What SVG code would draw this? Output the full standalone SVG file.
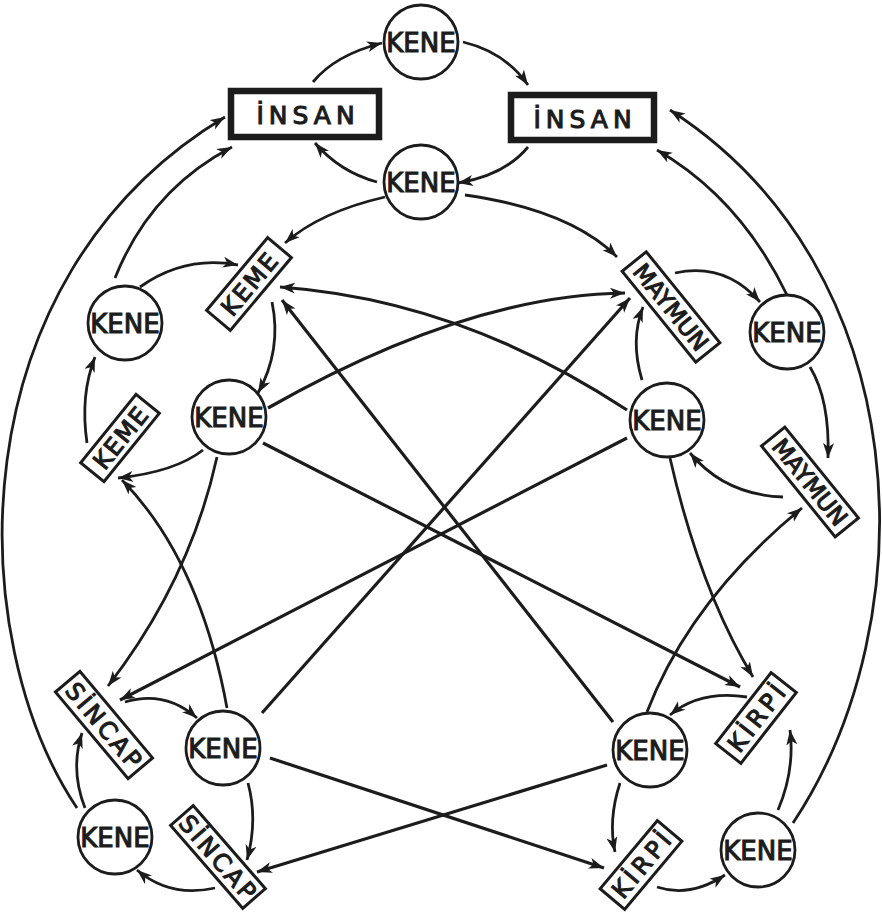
<svg xmlns="http://www.w3.org/2000/svg" width="882" height="916" viewBox="0 0 882 916">
<defs>
<style>
.bg{fill:#ffffff}
.kene circle{fill:#fff;stroke:#1c1c1c;stroke-width:2.8}
.lbl{font-family:"DejaVu Sans","Liberation Sans",sans-serif;fill:#1c1c1c;stroke:#1c1c1c;stroke-width:1.1;text-anchor:middle}
.host rect{fill:#fff;stroke:#1c1c1c;stroke-width:3}
.human rect{fill:#fff;stroke:#1c1c1c;stroke-width:6.5}
.edges path{fill:none;stroke:#1c1c1c;stroke-width:2.8;marker-end:url(#arr)}
.edges path.x{stroke-width:3.2}
</style>
<marker id="arr" markerUnits="userSpaceOnUse" markerWidth="18" markerHeight="12" refX="15" refY="5.5" orient="auto">
<path d="M0,0 L15,5.5 L0,11 L4,5.5 Z" fill="#1c1c1c"/>
</marker>
</defs>
<rect class="bg" x="0" y="0" width="882" height="916"/>

<g class="edges" id="connectors">
<path d="M313,82 Q335,55 382,43"/>
<path d="M463,42 Q505,52 528,85"/>
<path d="M528,147 Q505,175 458,183"/>
<path d="M377,182 Q340,172 315,143"/>
<path d="M385,197 Q320,212 285,243"/>
<path d="M465,195 Q570,210 617,257"/>
<path d="M140,287 Q185,255 238,265"/>
<path d="M272,302 Q282,350 258,393"/>
<path d="M203,450 Q175,472 118,478"/>
<path d="M87,443 Q80,395 95,357"/>
<path d="M115,278 Q150,190 232,147"/>
<path d="M77,808 C-36,640 -46,280 225,117"/>
<path d="M787,295 Q740,198 657,150"/>
<path d="M793,823 C928,620 918,270 670,110"/>
<path d="M675,273 Q725,262 760,302"/>
<path d="M810,367 Q830,400 828,458"/>
<path d="M783,497 Q725,495 690,453"/>
<path d="M642,380 Q630,340 643,307"/>
<path class="x" d="M627,410 Q460,300 280,287"/>
<path class="x" d="M268,408 Q467,295 625,293"/>
<path class="x" d="M613,722 L282,300"/>
<path class="x" d="M262,713 L630,298"/>
<path class="x" d="M627,438 L120,700"/>
<path class="x" d="M263,443 L740,687"/>
<path d="M670,458 Q700,590 753,677"/>
<path d="M217,457 Q190,580 108,686"/>
<path d="M227,708 Q200,560 122,480"/>
<path d="M125,702 Q165,690 197,718"/>
<path d="M248,783 Q258,820 247,860"/>
<path d="M215,888 Q170,898 137,870"/>
<path d="M85,808 Q70,770 82,733"/>
<path class="x" d="M270,758 L604,868"/>
<path class="x" d="M607,765 L257,872"/>
<path d="M647,712 Q690,600 802,508"/>
<path d="M747,697 Q700,690 670,715"/>
<path d="M620,783 Q608,820 615,852"/>
<path d="M657,887 Q690,898 725,875"/>
<path d="M778,810 Q795,770 790,730"/>
</g>

<g id="insan-left" class="human">
<rect x="231" y="91" width="148" height="46"/>
<text class="lbl" x="308" y="124" font-size="25" letter-spacing="5">İNSAN</text>
</g>
<g id="insan-right" class="human">
<rect x="511" y="95" width="143" height="45"/>
<text class="lbl" x="585" y="128" font-size="25" letter-spacing="5">İNSAN</text>
</g>

<g id="kene-top" class="kene"><circle cx="421" cy="42" r="37"/><text class="lbl" x="421" y="52" font-size="26">KENE</text></g>
<g id="kene-mid" class="kene"><circle cx="421" cy="182" r="37"/><text class="lbl" x="421" y="192" font-size="26">KENE</text></g>
<g id="kene-lu" class="kene"><circle cx="125" cy="323" r="37"/><text class="lbl" x="125" y="333" font-size="26">KENE</text></g>
<g id="kene-lm" class="kene"><circle cx="229" cy="417" r="37"/><text class="lbl" x="229" y="427" font-size="26">KENE</text></g>
<g id="kene-ru" class="kene"><circle cx="787" cy="332" r="37"/><text class="lbl" x="787" y="342" font-size="26">KENE</text></g>
<g id="kene-rm" class="kene"><circle cx="667" cy="420" r="37"/><text class="lbl" x="667" y="430" font-size="26">KENE</text></g>
<g id="kene-ll" class="kene"><circle cx="223" cy="748" r="37"/><text class="lbl" x="223" y="758" font-size="26">KENE</text></g>
<g id="kene-bl" class="kene"><circle cx="115" cy="837" r="37"/><text class="lbl" x="115" y="847" font-size="26">KENE</text></g>
<g id="kene-lr" class="kene"><circle cx="650" cy="750" r="37"/><text class="lbl" x="650" y="760" font-size="26">KENE</text></g>
<g id="kene-br" class="kene"><circle cx="758" cy="850" r="37"/><text class="lbl" x="758" y="860" font-size="26">KENE</text></g>

<g id="keme-up" class="host" transform="translate(249,284) rotate(-50)">
<rect x="-47.5" y="-15.5" width="95" height="31"/>
<text class="lbl" x="1" y="9" font-size="24" letter-spacing="2">KEME</text>
</g>
<g id="keme-low" class="host" transform="translate(120,438) rotate(-51)">
<rect x="-44" y="-15" width="88" height="30"/>
<text class="lbl" x="1" y="9" font-size="24" letter-spacing="1.5">KEME</text>
</g>
<g id="maymun-up" class="host" transform="translate(671,307) rotate(51)">
<rect x="-58.5" y="-15.5" width="117" height="31"/>
<text class="lbl" x="0" y="8.5" font-size="23.5">MAYMUN</text>
</g>
<g id="maymun-low" class="host" transform="translate(810,482) rotate(51)">
<rect x="-58.5" y="-15" width="117" height="30"/>
<text class="lbl" x="0" y="8.5" font-size="23.5">MAYMUN</text>
</g>
<g id="sincap-up" class="host" transform="translate(104,725) rotate(50)">
<rect x="-56.5" y="-16" width="113" height="32"/>
<text class="lbl" x="1.5" y="9" font-size="24" letter-spacing="3">SİNCAP</text>
</g>
<g id="sincap-low" class="host" transform="translate(218,857) rotate(49)">
<rect x="-55" y="-15" width="110" height="30"/>
<text class="lbl" x="1.5" y="9" font-size="24" letter-spacing="3">SİNCAP</text>
</g>
<g id="kirpi-up" class="host" transform="translate(756,718) rotate(-52)">
<rect x="-45" y="-16" width="90" height="32"/>
<text class="lbl" x="2" y="9" font-size="24" letter-spacing="4">KİRPİ</text>
</g>
<g id="kirpi-low" class="host" transform="translate(641,865) rotate(-50)">
<rect x="-44.5" y="-16" width="89" height="32"/>
<text class="lbl" x="2" y="9" font-size="24" letter-spacing="4">KİRPİ</text>
</g>
</svg>
